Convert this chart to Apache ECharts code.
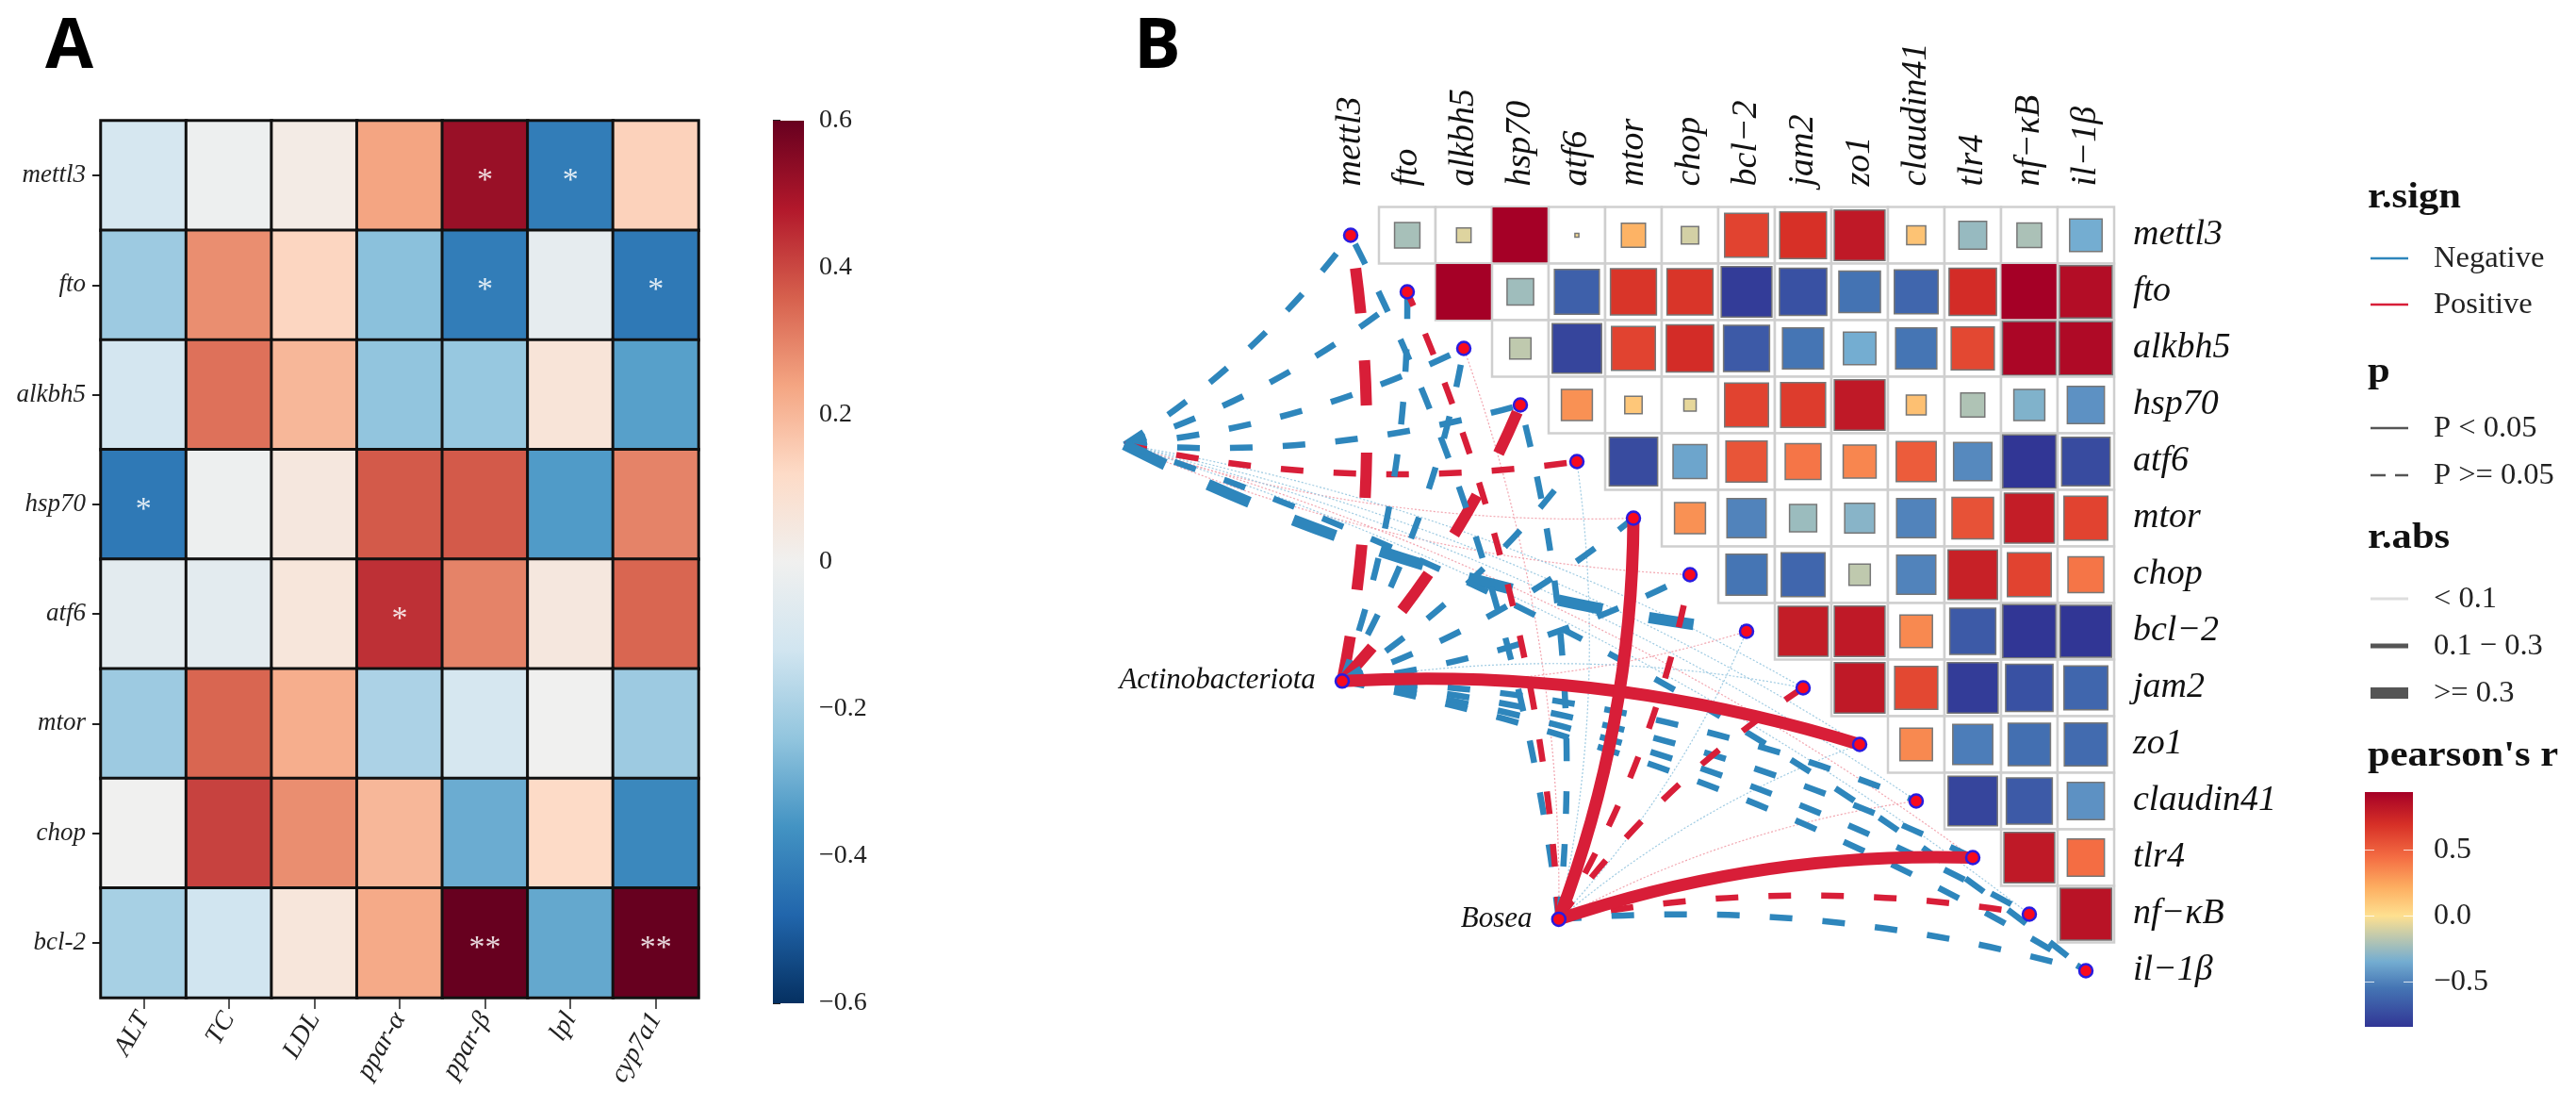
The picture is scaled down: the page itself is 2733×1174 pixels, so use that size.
<!DOCTYPE html>
<html><head><meta charset="utf-8">
<style>html,body{margin:0;padding:0;background:#fff}#c{width:2733px;height:1174px}</style>
<script src="https://cdn.jsdelivr.net/npm/echarts@6/dist/echarts.min.js"></script>
</head><body><div id="c"></div>
<script>
// ---------- Panel A data ----------
const aCols = ['ALT','TC','LDL','ppar-α','ppar-β','lpl','cyp7a1'];
const aRows = ['mettl3','fto','alkbh5','hsp70','atf6','mtor','chop','bcl-2'];
const aMettl3 = [-0.10,-0.01,0.03,0.24,0.52,-0.42,0.14];
const aFto    = [-0.22,0.28,0.13,-0.25,-0.42,-0.04,-0.43];
const aAlkbh5 = [-0.11,0.33,0.20,-0.24,-0.23,0.07,-0.33];
const aHsp70  = [-0.43,-0.01,0.05,0.37,0.37,-0.34,0.30];
const aAtf6   = [-0.05,-0.05,0.06,0.44,0.30,0.05,0.35];
const aMtor   = [-0.22,0.35,0.22,-0.19,-0.10,0.00,-0.22];
const aChop   = [0.00,0.41,0.28,0.20,-0.30,0.12,-0.39];
const aBcl2   = [-0.20,-0.12,0.06,0.23,0.60,-0.31,0.60];
const aStarsMettl3 = ['','','','','*','*',''];
const aStarsFto    = ['','','','','*','','*'];
const aStarsHsp70  = ['*','','','','','',''];
const aStarsAtf6   = ['','','','*','','',''];
const aStarsBcl2   = ['','','','','**','','**'];
const rdbu = ['#053061','#2166ac','#4393c3','#92c5de','#d1e5f0','#f0f0ef','#fddbc7','#f4a582','#d6604d','#b2182b','#67001f'];

// ---------- Panel B data ----------
const genes = ['mettl3','fto','alkbh5','hsp70','atf6','mtor','chop','bcl−2','jam2','zo1','claudin41','tlr4','nf−κB','il−1β'];
const rMettl3 = [-0.22,-0.08,0.95,-0.01,0.20,-0.11,0.62,0.70,0.82,0.13,-0.26,-0.21,-0.35];
const rFto    = [0.95,-0.24,-0.65,0.68,0.68,-0.82,-0.72,-0.56,-0.62,0.72,0.95,0.88];
const rAlkbh5 = [-0.16,-0.78,0.62,0.72,-0.68,-0.55,-0.35,-0.55,0.60,0.92,0.90];
const rHsp70  = [0.32,0.11,-0.06,0.62,0.65,0.82,0.14,-0.20,-0.32,-0.45];
const rAtf6   = [-0.75,-0.38,0.55,0.42,0.36,0.52,-0.48,-0.90,-0.75];
const rMtor   = [0.32,-0.50,-0.25,-0.30,-0.50,0.56,0.80,0.62];
const rChop   = [-0.55,-0.62,-0.16,-0.50,0.78,0.62,0.42];
const rBcl2   = [0.80,0.82,0.35,-0.68,-0.90,-0.85];
const rJam2   = [0.82,0.60,-0.82,-0.72,-0.62];
const rZo1    = [0.35,-0.52,-0.58,-0.60];
const rClaudin= [-0.78,-0.68,-0.45];
const rTlr4   = [0.82,0.45];
const rNfkb   = [0.85];
const geneMatrix = [rMettl3,rFto,rAlkbh5,rHsp70,rAtf6,rMtor,rChop,rBcl2,rJam2,rZo1,rClaudin,rTlr4,rNfkb];

const envNames = ['Firmicutes','Actinobacteriota','Bosea'];
const envXs = [-4.0,-0.15,3.68];
const envYs = [3.70,7.88,12.09];
const firmicutesR = [-0.2,-0.2,-0.2,-0.2,0.2,0.05,0.05,-0.35,-0.05,-0.05,-0.05,0.05,-0.05,-0.2];
const actinoR     = [0.35,-0.2,-0.2,0.35,-0.2,-0.2,-0.2,0.05,-0.05,0.45,-0.2,-0.2,-0.2,-0.2];
const boseaR      = [-0.2,0.2,0.05,-0.2,-0.05,0.45,0.2,-0.05,0.2,-0.05,0.05,0.45,0.25,-0.25];
const firmicutesSig = [];
const actinoSig     = ['zo1'];
const boseaSig      = ['mtor','tlr4'];
const envR = [firmicutesR,actinoR,boseaR];
const envSig = [firmicutesSig,actinoSig,boseaSig];

const pearsonStops = ['#313695','#4575b4','#74add1','#fee090','#fdae61','#f46d43','#d73027','#a50026'];
const pearsonPos = [-0.85,-0.55,-0.35,0,0.22,0.45,0.7,0.95];
const pearsonTicks = [-0.5,0,0.5];

// ---------- Builders ----------
const SERIF = '"Liberation Serif","Times New Roman",serif';
const aData = [];
[aMettl3,aFto,aAlkbh5,aHsp70,aAtf6,aMtor,aChop,aBcl2].forEach((row,i)=>row.forEach((v,j)=>aData.push([j,i,v])));
const starMap = {0:aStarsMettl3,1:aStarsFto,3:aStarsHsp70,4:aStarsAtf6,7:aStarsBcl2};

const matData = [];
geneMatrix.forEach((row,i)=>row.forEach((v,k)=>matData.push([i+1+k,i,v])));

const BLUE='#2E86BC', RED='#D81E38', LBLUE='#9fcbe2', LRED='#f2a6b0';
const linkData = [];
envR.forEach((arr,e)=>arr.forEach((r,g)=>{
  const abs=Math.abs(r), sig=envSig[e].includes(genes[g]);
  const thin=abs<0.1, thick=abs>=0.3;
  const width = thin?1.2:(thick?(sig?13:12):6.5);
  linkData.push({
    coords:[[envXs[e],envYs[e]],[g,g]],
    ord: sig?2:(thin?0:1),
    lineStyle:{color:thin?(r<0?LBLUE:LRED):(r<0?BLUE:RED),width:width,opacity:1,
      type:sig?'solid':(thin?[2,2]:(thick?[48,50]:[24,32])),
      curveness:(g<=7?-1:1)*0.09}
  });
}));
linkData.sort((a,b)=>a.ord-b.ord);

const cbA = [[-0.6,0.6]];
function gradientFrom(colors){
  return new echarts.graphic.LinearGradient(0,1,0,0,colors.map((c,i)=>({offset:i/(colors.length-1),color:c})));
}
function pearsonRamp(){
  const out=[],n=72;
  for(let i=0;i<=n;i++){
    const v=-0.85+i/n*1.8;let k=0;
    while(k<pearsonPos.length-2&&v>pearsonPos[k+1])k++;
    const t=Math.max(0,Math.min(1,(v-pearsonPos[k])/(pearsonPos[k+1]-pearsonPos[k])));
    out.push(echarts.color.lerp(t,[pearsonStops[k],pearsonStops[k+1]]));
  }
  return out;
}
const lg = [];
const T = (x,y,text,o,sx)=>lg.push({type:'text',x:x,y:y,scaleX:sx||1,silent:true,style:Object.assign({text:text,fill:'#222',font:'32.5px '+SERIF,textVerticalAlign:'middle'},o||{})});
const L = (y,color,w,dash)=>lg.push({type:'line',silent:true,shape:{x1:2515,y1:y,x2:2555,y2:y},style:{stroke:color,lineWidth:w,lineDash:dash||null}});
const BT = 'bold 37px '+SERIF;
T(48,51,'A',{font:'bold 74px "Open Sans","Liberation Sans",sans-serif',fill:'#000'});
T(1203,51,'B',{font:'bold 74px "Open Sans","Liberation Sans",sans-serif',fill:'#000'});
T(2512,210,'r.sign',{font:BT,fill:'#111'},1.15);
L(274,'#2E86BC',2.5); T(2582,274,'Negative');
L(323,'#D81E38',2.5); T(2582,323,'Positive');
T(2512,395,'p',{font:BT,fill:'#111'},1.15);
L(454,'#555',2.5); T(2582,454,'P < 0.05');
L(504,'#555',2.5,[16,10]); T(2582,504,'P >= 0.05');
T(2512,571,'r.abs',{font:BT,fill:'#111'},1.15);
L(635,'#ddd',3); T(2582,635,'< 0.1');
L(685,'#555',5); T(2582,685,'0.1 − 0.3');
L(735,'#555',12); T(2582,735,'>= 0.3');
T(2512,802,"pearson's r",{font:BT,fill:'#111'},1.15);

const option = {
  animation:false,
  backgroundColor:'#fff',
  graphic:{elements:lg},
  visualMap:[
    {type:'continuous',show:false,seriesIndex:0,dimension:2,min:-0.6,max:0.6,inRange:{color:rdbu}},
    {type:'continuous',show:false,seriesIndex:2,dimension:2,min:-0.85,max:0.95,inRange:{color:pearsonRamp()}}
  ],
  grid:[
    {left:107,top:128,width:634,height:930},
    {left:820,top:128,width:33,height:936},
    {left:1403,top:219.5,width:840,height:840},
    {left:2509,top:840,width:51,height:249}
  ],
  xAxis:[
    {type:'category',gridIndex:0,data:aCols,position:'bottom',
      axisLine:{show:false},axisTick:{show:true,alignWithLabel:true,length:12,lineStyle:{color:'#222',width:1.5}},
      axisLabel:{rotate:60,margin:18,fontFamily:SERIF,fontStyle:'italic',fontSize:28,color:'#222',interval:0},splitLine:{show:false}},
    {type:'value',gridIndex:1,min:0,max:1,show:false},
    {type:'category',gridIndex:2,data:genes,position:'top',
      axisLine:{show:false},axisTick:{show:false},splitLine:{show:false},
      axisLabel:{rotate:90,margin:22,fontFamily:SERIF,fontStyle:'italic',fontSize:38,color:'#111',interval:0}},
    {type:'value',gridIndex:2,min:-0.5,max:13.5,show:false},
    {type:'value',gridIndex:3,min:0,max:1,show:false}
  ],
  yAxis:[
    {type:'category',gridIndex:0,data:aRows,inverse:true,
      axisLine:{show:false},axisTick:{show:true,alignWithLabel:true,length:9,lineStyle:{color:'#222',width:2}},
      axisLabel:{margin:16,fontFamily:SERIF,fontStyle:'italic',fontSize:27,color:'#222',interval:0},splitLine:{show:false}},
    {type:'value',gridIndex:1,min:-0.6,max:0.6,interval:0.2,position:'right',
      axisLine:{show:false},axisTick:{show:true,length:8,lineStyle:{color:'#222',width:2}},splitLine:{show:false},
      axisLabel:{margin:16,fontFamily:SERIF,fontSize:28,color:'#222',
        formatter:v=>(Math.abs(v)<1e-9?'0':String(+v.toFixed(1)).replace('-','−'))}},
    {type:'category',gridIndex:2,data:genes,inverse:true,position:'right',
      axisLine:{show:false},axisTick:{show:false},splitLine:{show:false},
      axisLabel:{margin:20,fontFamily:SERIF,fontStyle:'italic',fontSize:38,color:'#111',interval:0}},
    {type:'value',gridIndex:2,min:-0.5,max:13.5,inverse:true,show:false},
    {type:'value',gridIndex:3,min:-0.84,max:0.94,position:'right',
      axisLine:{show:false},axisTick:{show:false},splitLine:{show:false},
      axisLabel:{margin:22,fontFamily:SERIF,fontSize:32,color:'#222',customValues:pearsonTicks,
        formatter:v=>v.toFixed(1).replace('-','−')}}
  ],
  series:[
    {type:'heatmap',xAxisIndex:0,yAxisIndex:0,data:aData,
      itemStyle:{borderColor:'#111',borderWidth:3},
      label:{show:true,color:'#fff',opacity:.85,fontFamily:SERIF,fontSize:34,offset:[0,6],
        formatter:p=>{const s=starMap[p.value[1]];return s?s[p.value[0]]:'';}},
      emphasis:{disabled:true},z:2},
    {type:'custom',xAxisIndex:1,yAxisIndex:1,data:cbA,clip:false,silent:true,
      renderItem:(params,api)=>{
        const a=api.coord([0,0.6]), b=api.coord([1,-0.6]);
        return {type:'rect',shape:{x:a[0],y:a[1],width:b[0]-a[0],height:b[1]-a[1]},style:{fill:gradientFrom(rdbu)}};
      }},
    {type:'custom',xAxisIndex:2,yAxisIndex:2,data:matData,silent:true,
      encode:{x:0,y:1},
      renderItem:(params,api)=>{
        const c=api.coord([api.value(0),api.value(1)]);
        const s=api.size([1,1]);
        const f=Math.min(1,Math.sqrt(Math.abs(api.value(2))/0.95));
        const w=s[0]*f-(f===1?1:2), h=s[1]*f-(f===1?1:2);
        return {type:'group',children:[
          {type:'rect',shape:{x:c[0]-s[0]/2,y:c[1]-s[1]/2,width:s[0],height:s[1]},style:{fill:'#fff',stroke:'#cfcfcf',lineWidth:2.5}},
          {type:'rect',shape:{x:c[0]-w/2,y:c[1]-h/2,width:w,height:h},style:{fill:api.visual('color'),stroke:'#777',lineWidth:f===1?0:1.5}}
        ]};
      }},
    {type:'lines',coordinateSystem:'cartesian2d',xAxisIndex:3,yAxisIndex:3,data:linkData,clip:false,silent:true,z:3,
      lineStyle:{opacity:1}},
    {type:'scatter',xAxisIndex:3,yAxisIndex:3,z:5,silent:true,symbol:'circle',symbolSize:14,
      itemStyle:{color:'#f80a1e',borderColor:'#2a1be0',borderWidth:2.5,opacity:1},
      data:genes.map((g,i)=>[i,i])},
    {type:'scatter',xAxisIndex:3,yAxisIndex:3,z:5,silent:true,symbol:'circle',symbolSize:14,
      itemStyle:{color:'#f80a1e',borderColor:'#2a1be0',borderWidth:2.5,opacity:1},
      label:{show:true,position:'left',distance:20,fontFamily:SERIF,fontStyle:'italic',fontSize:31,color:'#111',
        formatter:p=>p.value[2]},
      data:envNames.map((n,i)=>[envXs[i],envYs[i],n])},
    {type:'custom',xAxisIndex:4,yAxisIndex:4,data:[[0]],silent:true,clip:false,
      renderItem:(params,api)=>{
        const a=api.coord([0,0.94]), b=api.coord([1,-0.84]);
        const children=[{type:'rect',shape:{x:a[0],y:a[1],width:b[0]-a[0],height:b[1]-a[1]},style:{fill:new echarts.graphic.LinearGradient(0,1,0,0,
          pearsonStops.map((c,i)=>({offset:(pearsonPos[i]+0.85)/1.8,color:c})))}}];
        pearsonTicks.forEach(t=>{const y=api.coord([0,t])[1];
          children.push({type:'line',shape:{x1:a[0],y1:y,x2:a[0]+10,y2:y},style:{stroke:'#fff',lineWidth:1,opacity:.8}});
          children.push({type:'line',shape:{x1:b[0]-10,y1:y,x2:b[0],y2:y},style:{stroke:'#fff',lineWidth:1,opacity:.8}});
        });
        return {type:'group',children};
      }}
  ]
};
const chart = echarts.init(document.getElementById('c'),null,{renderer:'canvas'});
chart.setOption(option);
</script></body></html>
